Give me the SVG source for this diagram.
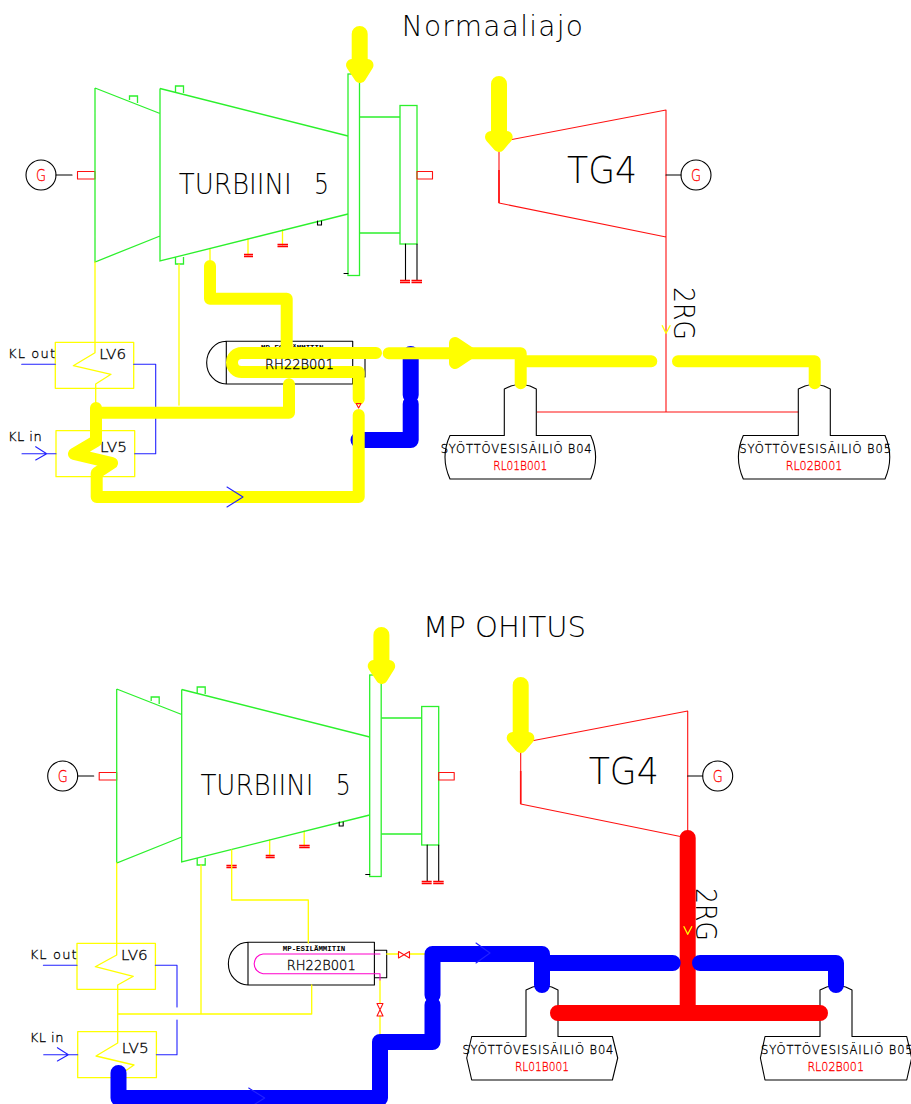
<svg xmlns="http://www.w3.org/2000/svg" width="911" height="1104" viewBox="0 0 911 1104">
<style>
text{font-family:"DejaVu Sans ExtraLight","DejaVu Sans",sans-serif;font-weight:200;fill:#000;stroke:none}
.s{stroke:#000;stroke-width:.3}
.rt{fill:#f00;stroke:#f00;stroke-width:.3}
.sm{font-family:"Liberation Mono",monospace;font-weight:700;font-size:8px;fill:#000}
.g,.r,.k,.b,.y,.p,.Y,.B,.A,.R,.rs{fill:none;stroke-linecap:round;stroke-linejoin:round}
.g{stroke:#2cf02c;stroke-width:1.3;stroke-linecap:butt;stroke-linejoin:miter}
.r{stroke:#f11;stroke-width:1.1;stroke-linecap:butt}
.rs{stroke:#f00;stroke-width:1.3;stroke-linecap:butt}
.k{stroke:#000;stroke-width:1.1}
.b{stroke:#22f;stroke-width:1.1}
.y{stroke:#ff0;stroke-width:1.3}
.p{stroke:#f0c;stroke-width:1.1}
.Y{stroke:#ff0;stroke-width:12}
.A{stroke:#ff0;stroke-width:16}
.B{stroke:#00f;stroke-width:16}
.R{stroke:#f00;stroke-width:16}
.yf{fill:#ff0;stroke:#ff0;stroke-width:12;stroke-linejoin:round}
</style>

<g id="title-normaaliajo"><text x="401.7" y="36" font-size="28" textLength="181.3">Normaaliajo</text></g>

<g id="generator-t5-top">
<circle class="k" cx="41" cy="175" r="15"/><path class="k" d="M56,175H72"/>
<text class="rt" x="36" y="181" font-size="16" textLength="10" lengthAdjust="spacingAndGlyphs">G</text>
<rect class="r" x="77.5" y="171.5" width="17.5" height="7.5"/>
</g>
<g id="turbine5-top">
<path class="y" d="M248,239V255M282.5,230V245M210,249V260"/>
<path class="g" d="M95,88V262L160,236M95,88L160,113.5M160,88.5V261L348,214M160,88.5L348,136"/>
<path class="g" d="M129.5,100V96H137.5V103M175.5,92V86H183.5V93M175.5,257V264H183.5V257"/>
<rect class="g" x="348" y="74" width="11.5" height="201.5"/>
<path class="g" d="M359.5,117H400M359.5,233H400"/>
<rect class="g" x="400" y="105.5" width="17" height="138.5"/>
<rect class="r" x="417" y="171.5" width="15.5" height="7.5"/>
<path class="k" d="M344,273.5H348M317.5,221V225H321.5V221M405.5,244V280M417,244V280"/>
<path class="rs" d="M244,254.5H253M244,256.5H253M277.5,244.5H288M277.5,246.5H288M400,280.5H410M400,282.5H410M411.5,280.5H422M411.5,282.5H422"/>
<text x="178.7" y="194.3" font-size="28"><tspan x="178.7" textLength="113" lengthAdjust="spacingAndGlyphs">TURBIINI</tspan> <tspan x="314" textLength="15" lengthAdjust="spacingAndGlyphs">5</tspan></text>
</g>
<g id="tg4-top">
<path class="r" d="M499,142L666,110V237L499,203ZM666,237V412M537,412H798.5"/>
<path class="r" d="M499,170V203" style="stroke-width:1.6"/>
<text x="567" y="183" font-size="38" textLength="70" lengthAdjust="spacingAndGlyphs">TG4</text>
<path class="k" d="M666,175H681"/><circle class="k" cx="696" cy="175" r="15"/>
<text class="rt" x="691" y="181" font-size="16" textLength="10" lengthAdjust="spacingAndGlyphs">G</text>
<text transform="translate(674,287) rotate(90)" font-size="29" textLength="53" lengthAdjust="spacingAndGlyphs">2RG</text>
<path class="y" d="M662.3,325.7L666,333.3L670,325.7"/>
</g>
<g id="lv6-top">
<rect class="y" x="55.3" y="342.3" width="78.4" height="46"/>
<text class="s" x="99.3" y="359" font-size="14" textLength="26.7" lengthAdjust="spacingAndGlyphs">LV6</text>
<text class="s" x="8" y="357.7" font-size="13" textLength="47">KL out</text>
</g>
<g id="lv5-top">
<rect class="y" x="56" y="430.7" width="78.7" height="46"/>
<text class="s" x="100" y="452" font-size="14" textLength="27" lengthAdjust="spacingAndGlyphs">LV5</text>
<text class="s" x="8" y="441" font-size="13" textLength="33.7">KL in</text>
</g>
<g id="rh22b001-top">
<path class="k" d="M226.3,341.3A19.6,21.3 0 0 0 226.3,384M226.3,341.3V384H352.7V341.3ZM352.7,351H365V377H352.7"/>
<text class="sm" x="261" y="349.7" textLength="62.5" lengthAdjust="spacingAndGlyphs">MP-ESILÄMMITIN</text>
</g>
<g id="tank-b04-top">
<path class="k" d="M504.3,435.5V389L511,386Q520,383 530,386L536.3,389V435.5H590.7Q600.5,457 590.7,479H450Q440,457 450,435.5Z"/>
<text class="s" x="440.7" y="453.3" font-size="11.5" textLength="151">SYÖTTÖVESISÄILIÖ B04</text>
<text class="rt" x="493.3" y="470" font-size="12" textLength="54" lengthAdjust="spacingAndGlyphs">RL01B001</text>
</g>
<g id="tank-b05-top">
<path class="k" d="M798.3,435.5V389L805,386Q814,383 824,386L830.3,389V435.5H885Q894.5,457 885,479H743.3Q733.5,457 743.3,435.5Z"/>
<text class="s" x="739.3" y="453.3" font-size="11.5" textLength="151.7">SYÖTTÖVESISÄILIÖ B05</text>
<text class="rt" x="785.7" y="470" font-size="12" textLength="56.6" lengthAdjust="spacingAndGlyphs">RL02B001</text>
</g>

<g id="connectors-top">
<path class="y" d="M95,262V352.7L73.3,365.7L111,374.3L95.7,384V408M179,264V405"/>
<path class="b" d="M21.7,364.3H55.3M133.7,364.3H155.7V453.7H134.7M22,453.7H56M35.7,446.7L46.7,453.7L35.7,460"/>
<path class="B" d="M410.7,354V395M410.7,404V440H358.5"/>
<path class="A" d="M359.7,34V65M499,84V137"/>
<polygon class="yf" points="352,65 367.5,65 360,77"/>
<polygon class="yf" points="491,137 506.7,137 499,146"/>
<path class="Y" d="M210,266V298.7H286.7V352"/>
<path class="Y" d="M376,353H241.5A9.5,9.5 0 0 0 241.5,372H358.7V399"/>
<path class="Y" d="M289,384.3V412.7H96"/>
<path class="Y" d="M96,408V441L74,454L112,463L96.7,473V497H358.7V415"/>
<path class="Y" d="M388.7,353.3H520.7V383.3M520.7,361.3H651.3M678,361.3H814.7V383.3"/>
<polygon class="yf" points="455,343 470,353 455,363"/>
<path class="r" d="M356.2,403.5H361L358.6,408Z"/>
<path class="b" d="M227,487L243,497L227,507"/>
</g>
<text class="s" x="265" y="368.7" font-size="14" textLength="69" lengthAdjust="spacingAndGlyphs">RH22B001</text>

<g id="title-mp-ohitus"><text x="423" y="637" font-size="28" textLength="163" lengthAdjust="spacingAndGlyphs">MP OHITUS</text></g>

<g transform="translate(21.7,601)">
<g id="generator-t5-bottom">
<circle class="k" cx="41" cy="175" r="15"/><path class="k" d="M56,175H72"/>
<text class="rt" x="36" y="181" font-size="16" textLength="10" lengthAdjust="spacingAndGlyphs">G</text>
<rect class="r" x="77.5" y="171.5" width="17.5" height="7.5"/>
</g>
<g id="turbine5-bottom">
<path class="y" d="M248,239V255M282.5,230V245"/>
<path class="g" d="M95,88V262L160,236M95,88L160,113.5M160,88.5V261L348,214M160,88.5L348,136"/>
<path class="g" d="M129.5,100V96H137.5V103M175.5,92V86H183.5V93M175.5,257V264H183.5V257"/>
<rect class="g" x="348" y="74" width="11.5" height="201.5"/>
<path class="g" d="M359.5,117H400M359.5,233H400"/>
<rect class="g" x="400" y="105.5" width="17" height="138.5"/>
<rect class="r" x="417" y="171.5" width="15.5" height="7.5"/>
<path class="k" d="M344,273.5H348M317.5,221V225H321.5V221M405.5,244V280M417,244V280"/>
<path class="rs" d="M204.7,264.5H215M204.7,266.5H215M244,254.5H253M244,256.5H253M277.5,244.5H288M277.5,246.5H288M400,280.5H410M400,282.5H410M411.5,280.5H422M411.5,282.5H422"/>
<text x="178.7" y="194.3" font-size="28"><tspan x="178.7" textLength="113" lengthAdjust="spacingAndGlyphs">TURBIINI</tspan> <tspan x="314" textLength="15" lengthAdjust="spacingAndGlyphs">5</tspan></text>
</g>
<g id="tg4-bottom">
<path class="r" d="M499,142L666,110V237L499,203Z"/>
<path class="r" d="M499,170V203" style="stroke-width:1.6"/>
<text x="567" y="183" font-size="38" textLength="70" lengthAdjust="spacingAndGlyphs">TG4</text>
<path class="k" d="M666,175H681"/><circle class="k" cx="696" cy="175" r="15"/>
<text class="rt" x="691" y="181" font-size="16" textLength="10" lengthAdjust="spacingAndGlyphs">G</text>
<text transform="translate(674,287) rotate(90)" font-size="29" textLength="53" lengthAdjust="spacingAndGlyphs">2RG</text>
</g>
<g id="lv6-bottom">
<rect class="y" x="55.3" y="342.3" width="78.4" height="46"/>
<text class="s" x="99.3" y="359" font-size="14" textLength="26.7" lengthAdjust="spacingAndGlyphs">LV6</text>
<text class="s" x="8" y="357.7" font-size="13" textLength="47">KL out</text>
</g>
<g id="lv5-bottom">
<rect class="y" x="56" y="430.7" width="78.7" height="46"/>
<text class="s" x="100" y="452" font-size="14" textLength="27" lengthAdjust="spacingAndGlyphs">LV5</text>
<text class="s" x="8" y="441" font-size="13" textLength="33.7">KL in</text>
</g>
<g id="rh22b001-bottom">
<path class="k" d="M226.3,341.3A19.6,21.3 0 0 0 226.3,384M226.3,341.3V384H352.7V341.3ZM352.7,349.3H365V376.7H352.7"/>
<text class="sm" x="261" y="349.7" textLength="62.5" lengthAdjust="spacingAndGlyphs">MP-ESILÄMMITIN</text>
<text class="s" x="265" y="368.7" font-size="14" textLength="69" lengthAdjust="spacingAndGlyphs">RH22B001</text>
</g>
<g id="tank-b04-bottom">
<path class="k" d="M504.3,435.5V389L511,386Q520,383 530,386L536.3,389V435.5H590.7L596,457L590.7,479H450L445,457L450,435.5Z"/>
<text class="s" x="440.7" y="453.3" font-size="11.5" textLength="151">SYÖTTÖVESISÄILIÖ B04</text>
<text class="rt" x="493.3" y="470" font-size="12" textLength="54" lengthAdjust="spacingAndGlyphs">RL01B001</text>
</g>
<g id="tank-b05-bottom">
<path class="k" d="M798.3,435.5V389L805,386Q814,383 824,386L830.3,389V435.5H885L890,457L885,479H743.3L738.7,457L743.3,435.5Z"/>
<text class="s" x="739.3" y="453.3" font-size="11.5" textLength="151.7">SYÖTTÖVESISÄILIÖ B05</text>
<text class="rt" x="785.7" y="470" font-size="12" textLength="56.6" lengthAdjust="spacingAndGlyphs">RL02B001</text>
</g>
</g>

<g id="connectors-bottom">
<path class="y" d="M116.7,863V955L95.3,966.7L133.3,976.3L117.7,985V1043L96,1056L134,1065L118,1076M117.7,1014H311.7V985M201,865V1014M231.7,850V900H308.3V943"/>
<path class="y" d="M386.7,954H398M409.5,954H425M380,980V1003M380,1016V1035"/>
<path class="r" d="M398.5,951.5L409.5,958V951.5L398.5,958ZM377,1003.5H383L377,1016H383Z"/>
<path class="p" d="M380,954H263A9.8,9.9 0 0 0 263,973.7H380V980"/>
<path class="b" d="M43.4,965.3H77M155.4,965.3H177V1007M177,1020V1054.7H156.4M43.7,1054.7H77.7M57.4,1047.7L68.4,1054.7L57.4,1061"/>
<path class="R" d="M687.7,838V1013M558,1013H820"/>
<path class="B" d="M118.5,1073V1098H380V1042H432.5V1005"/>
<path class="B" d="M432.5,995V954H542V985M542,963H672.7M700,963H836V985"/>
<path class="b" d="M248.7,1088L264.7,1098L248.7,1108M476,943L490,953L476,963"/>
<path class="A" d="M381.4,635V666M520.7,685V738"/>
<polygon class="yf" points="373.7,666 389.2,666 381.7,678"/>
<polygon class="yf" points="512.7,738 528.4,738 520.7,747"/>
<path class="y" d="M684,926.7L687.7,934.3L691.7,926.7"/>
</g>
</svg>
